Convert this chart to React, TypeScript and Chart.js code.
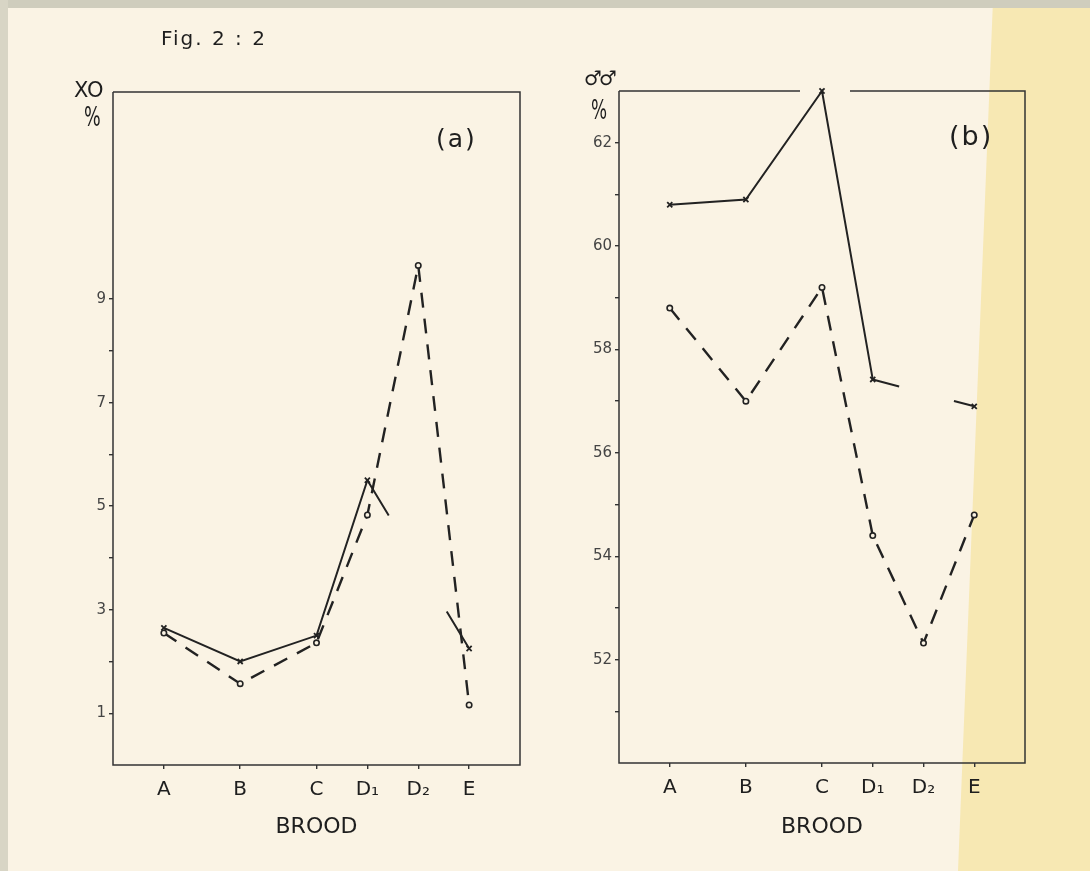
import React, { useEffect, useRef } from "react";
import { Chart, registerables } from "chart.js";

Chart.register(...registerables);

// ---------- data ----------
const CATEGORY_LABELS = ["A", "B", "C", "D₁", "D₂", "E"];
const CATEGORY_POS = [0, 1.5, 3, 4, 5, 6];

// panel (a): XO %
const XO_CROSS: (number | null)[] = [2.65, 2.0, 2.5, 5.5, null, 2.25];
const XO_CIRCLE: (number | null)[] = [2.55, 1.57, 2.36, 4.83, 9.65, 1.16];
const Y_TICKS_A = [1, 2, 3, 4, 5, 6, 7, 8, 9];
const Y_LABELS_A = [1, 3, 5, 7, 9];

// panel (b): males %
const MALE_CROSS: (number | null)[] = [60.8, 60.9, 63.0, 57.42, null, 56.9];
const MALE_CIRCLE: (number | null)[] = [58.8, 57.0, 59.2, 54.4, 52.32, 54.8];
const Y_TICKS_B = [51, 52, 53, 54, 55, 56, 57, 58, 59, 60, 61, 62];
const Y_LABELS_B = [52, 54, 56, 58, 60, 62];

// ---------- style ----------
const INK = "#222222";
const PAPER = "#faf3e4";
const FONT = "'DejaVu Sans', 'Noto Sans', sans-serif";

const toPoints = (vals: (number | null)[]) =>
  vals
    .map((v, i) => (v == null ? null : { x: CATEGORY_POS[i], y: v }))
    .filter((p) => p !== null) as { x: number; y: number }[];

const framePlugin = {
  id: "frame",
  beforeDatasetsDraw(chart: any, _args: any, opts: any) {
    const { ctx, chartArea } = chart;
    const { left, right, top, bottom } = chartArea;
    ctx.save();
    ctx.strokeStyle = "#333";
    ctx.lineWidth = 1.5;
    ctx.beginPath();
    ctx.moveTo(left, top);
    ctx.lineTo(left, bottom);
    ctx.lineTo(right, bottom);
    ctx.lineTo(right, top);
    if (opts && opts.gapAt != null) {
      const gx = chart.scales.x.getPixelForValue(opts.gapAt);
      ctx.lineTo(gx + opts.gapAfter, top);
      ctx.moveTo(gx - opts.gapBefore, top);
      ctx.lineTo(left, top);
    } else {
      ctx.lineTo(left, top);
    }
    ctx.stroke();
    ctx.restore();
  },
};

type PanelProps = {
  cross: (number | null)[];
  circle: (number | null)[];
  yMin: number;
  yMax: number;
  yTicks: number[];
  yLabels: number[];
  gap: [number, number];
  padding: { left: number; right: number; top: number; bottom: number };
  xHeight: number;
  frameGap?: { gapAt: number; gapBefore: number; gapAfter: number } | null;
  left: number;
};

function Panel(p: PanelProps) {
  const ref = useRef<HTMLCanvasElement | null>(null);
  useEffect(() => {
    if (!ref.current) return;
    const chart = new Chart(ref.current, {
      type: "line",
      data: {
        datasets: [
          {
            data: toPoints(p.cross),
            borderColor: INK,
            borderWidth: 2,
            pointStyle: "crossRot",
            pointRadius: 3.6,
            pointBorderWidth: 1.8,
            pointBorderColor: INK,
            pointBackgroundColor: INK,
            clip: false as any,
            segment: {
              borderDash: (ctx: any) => {
                if (ctx.p0DataIndex === 3) {
                  const L = Math.hypot(ctx.p1.x - ctx.p0.x, ctx.p1.y - ctx.p0.y);
                  return [p.gap[0] * L, (p.gap[1] - p.gap[0]) * L, L];
                }
                return undefined;
              },
            },
          } as any,
          {
            data: toPoints(p.circle),
            borderColor: INK,
            borderWidth: 2.4,
            borderDash: [15, 11],
            pointStyle: "circle",
            pointRadius: 2.7,
            pointBorderWidth: 1.6,
            pointBorderColor: INK,
            pointBackgroundColor: PAPER,
            clip: false as any,
          } as any,
        ],
      },
      options: {
        animation: false,
        responsive: false,
        events: [],
        layout: { padding: p.padding },
        plugins: {
          legend: { display: false },
          tooltip: { enabled: false },
          frame: p.frameGap || {},
        } as any,
        scales: {
          x: {
            type: "linear",
            min: -1,
            max: 7,
            afterBuildTicks: (s: any) => {
              s.ticks = CATEGORY_POS.map((v) => ({ value: v }));
            },
            afterFit: (s: any) => {
              s.height = p.xHeight;
            },
            grid: {
              drawOnChartArea: false,
              drawTicks: true,
              tickLength: 4,
              color: "#333",
              lineWidth: 1.4,
            },
            border: { display: false },
            ticks: {
              autoSkip: false,
              maxRotation: 0,
              padding: 9,
              color: "#1e1e1e",
              font: { family: FONT, size: 20 },
              callback: (v: any) => {
                const i = CATEGORY_POS.indexOf(Number(v));
                return i >= 0 ? CATEGORY_LABELS[i] : "";
              },
            },
            title: {
              display: true,
              text: "BROOD",
              color: "#1e1e1e",
              font: { family: FONT, size: 22 },
              padding: { top: 0, bottom: 0 },
            },
          },
          y: {
            type: "linear",
            min: p.yMin,
            max: p.yMax,
            afterBuildTicks: (s: any) => {
              s.ticks = p.yTicks.map((v) => ({ value: v }));
            },
            afterFit: (s: any) => {
              s.width = 50;
            },
            grid: {
              drawOnChartArea: false,
              drawTicks: true,
              tickLength: 4,
              color: "#333",
              lineWidth: 1.4,
            },
            border: { display: false },
            ticks: {
              autoSkip: false,
              padding: 3,
              color: "#444",
              font: { family: FONT, size: 15 },
              callback: (v: any) => (p.yLabels.includes(Number(v)) ? String(v) : ""),
            },
          },
        },
      } as any,
      plugins: [framePlugin],
    });
    return () => chart.destroy();
  }, []);
  return (
    <canvas
      ref={ref}
      width={545}
      height={871}
      style={{ position: "absolute", left: p.left, top: 0, width: 545, height: 871 }}
    />
  );
}

const txt = (extra: React.CSSProperties): React.CSSProperties => ({
  position: "absolute",
  fontFamily: FONT,
  color: "#1e1e1e",
  lineHeight: 1,
  whiteSpace: "nowrap",
  ...extra,
});

export default function App() {
  return (
    <div
      style={{
        position: "absolute",
        left: 0,
        top: 0,
        width: 1090,
        height: 871,
        overflow: "hidden",
        background: PAPER,
      }}
    >
      {/* yellow strip of paper on the right */}
      <div
        style={{
          position: "absolute",
          left: 0,
          top: 0,
          width: 1090,
          height: 871,
          background: "#f7e8b3",
          clipPath: "polygon(993px 0, 1090px 0, 1090px 871px, 958px 871px)",
        }}
      />
      {/* scan edges */}
      <div style={{ position: "absolute", left: 0, top: 0, width: 1090, height: 8, background: "#cfcdbd" }} />
      <div style={{ position: "absolute", left: 0, top: 0, width: 8, height: 871, background: "#d8d5c5" }} />

      <Panel
        left={0}
        cross={XO_CROSS}
        circle={XO_CIRCLE}
        yMin={0}
        yMax={13}
        yTicks={Y_TICKS_A}
        yLabels={Y_LABELS_A}
        gap={[0.21, 0.78]}
        padding={{ left: 63, right: 25, top: 92, bottom: 31 }}
        xHeight={75}
        frameGap={null}
      />
      <Panel
        left={545}
        cross={MALE_CROSS}
        circle={MALE_CIRCLE}
        yMin={50}
        yMax={63}
        yTicks={Y_TICKS_B}
        yLabels={Y_LABELS_B}
        gap={[0.26, 0.8]}
        padding={{ left: 24, right: 65, top: 91, bottom: 31 }}
        xHeight={77}
        frameGap={{ gapAt: CATEGORY_POS[2], gapBefore: 22, gapAfter: 28 }}
      />

      <div style={txt({ left: 161, top: 28, fontSize: 20, letterSpacing: 2 })}>Fig. 2 : 2</div>

      <div style={txt({ left: 74, top: 80, fontSize: 21 })}>XO</div>
      <div style={txt({ left: 84, top: 103, fontSize: 27, transform: "scaleX(0.65)", transformOrigin: "left top" })}>%</div>
      <div style={txt({ left: 436, top: 126, fontSize: 25, letterSpacing: 2 })}>(a)</div>

      <div style={txt({ left: 584, top: 68, fontSize: 20, letterSpacing: -3 })}>♂♂</div>
      <div style={txt({ left: 591, top: 97, fontSize: 26, transform: "scaleX(0.65)", transformOrigin: "left top" })}>%</div>
      <div style={txt({ left: 949, top: 122, fontSize: 27, letterSpacing: 2 })}>(b)</div>
    </div>
  );
}
